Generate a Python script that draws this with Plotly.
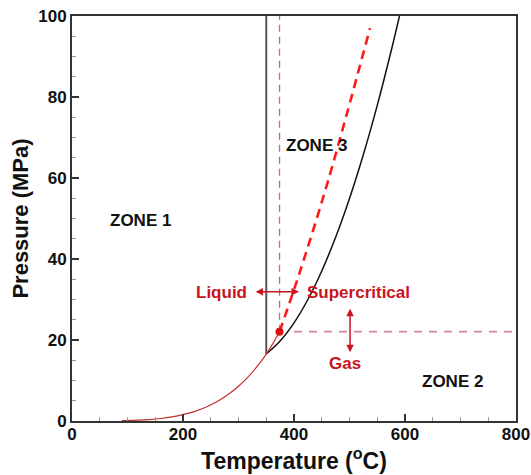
import plotly.graph_objects as go

# Saturation curve (°C, MPa)
sat_T = [90, 100, 120, 140, 160, 180, 200, 220, 240, 260, 280, 300, 320, 340, 350, 360, 370, 373.95]
sat_P = [0.0701, 0.1014, 0.1987, 0.3615, 0.6182, 1.0028, 1.5549, 2.3196, 3.3469, 4.6923,
         6.4166, 8.5879, 11.284, 14.587, 16.529, 18.666, 21.044, 22.064]

# Boundary between zone 2 and zone 3
b23_T = [350, 375, 400, 425, 450, 475, 500, 525, 550, 575, 590]
b23_P = [16.53, 19.75, 24.23, 30.00, 37.04, 45.36, 54.95, 65.81, 77.94, 91.35, 100.0]

# Zone 1 / zone 3 boundary
z13_T = [350, 350]
z13_P = [16.53, 100]

# Critical isotherm and isobar
crit_T = 373.95
crit_P = 22.064
tc_line_P = [22.064, 100]
pc_line_T = [400, 800]

# Pseudo-critical line
pc_T = [373.95, 410.8, 461.8, 537]
pc_P = [22.064, 36.9, 59.5, 97]

xticks = [0, 200, 400, 600, 800]
yticks = [0, 20, 40, 60, 80, 100]

RED = "#c8141e"
FONT = "Liberation Sans, Arial, sans-serif"

fig = go.Figure()
fig.add_trace(go.Scatter(x=z13_T, y=z13_P, mode="lines",
                         line=dict(color="#555555", width=2)))
fig.add_trace(go.Scatter(x=[crit_T, crit_T], y=tc_line_P, mode="lines",
                         line=dict(color="#cc6670", width=1.3, dash="7px,5px")))
fig.add_trace(go.Scatter(x=pc_line_T, y=[crit_P, crit_P], mode="lines",
                         line=dict(color="#d08890", width=1.8, dash="8px,7px")))
fig.add_trace(go.Scatter(x=b23_T, y=b23_P, mode="lines", line_shape="spline",
                         line=dict(color="#111111", width=1.5)))
fig.add_trace(go.Scatter(x=sat_T, y=sat_P, mode="lines", line_shape="spline",
                         line=dict(color="#c0302c", width=1.2)))
fig.add_trace(go.Scatter(x=pc_T, y=pc_P, mode="lines", line_shape="spline",
                         line=dict(color="#ff1a1a", width=2.6, dash="9px,6px")))
fig.add_trace(go.Scatter(x=[crit_T], y=[crit_P], mode="markers",
                         marker=dict(color="#dd1111", size=8)))

def txt(x, y, s, color="#111111"):
    fig.add_annotation(x=x, y=y, text="<b>%s</b>" % s, showarrow=False,
                       font=dict(family=FONT, size=17, color=color))

txt(124, 49.4, "ZONE 1")
txt(440, 68, "ZONE 3")
txt(685, 9.7, "ZONE 2")
txt(268.5, 31.7, "Liquid", RED)
txt(517, 31.7, "Supercritical", RED)
txt(492, 14.3, "Gas", RED)

fig.add_annotation(x=409, y=31.9, ax=328, ay=31.9, axref="x", ayref="y", xref="x", yref="y",
                   text="", showarrow=True, arrowside="end+start", arrowhead=2,
                   arrowsize=1, arrowwidth=1.5, arrowcolor=RED)
fig.add_annotation(x=501, y=17.0, ax=501, ay=28.1, axref="x", ayref="y", xref="x", yref="y",
                   text="", showarrow=True, arrowside="end+start", arrowhead=2,
                   arrowsize=1, arrowwidth=1.5, arrowcolor=RED)

axis_common = dict(showline=True, linecolor="#333333", linewidth=2, mirror=True,
                   ticks="inside", tickcolor="#333333", tickwidth=2, ticklen=7,
                   showgrid=False, zeroline=False, automargin=False,
                   tickfont=dict(family=FONT, size=17, color="#111111"))

fig.update_xaxes(range=[0, 800], tickvals=xticks, ticktext=["<b>%d</b>" % v for v in xticks],
                 ticklabelstandoff=-3,
                 minor=dict(ticks="inside", dtick=50, ticklen=4, tickcolor="#999999", tickwidth=1),
                 title=dict(text="<b>Temperature (<sup>o</sup>C)</b>",
                            font=dict(family=FONT, size=23, color="#111111"), standoff=2),
                 **axis_common)
fig.update_yaxes(range=[0, 100], tickvals=yticks, ticktext=["<b>%d</b>" % v for v in yticks],
                 minor=dict(ticks="inside", dtick=5, ticklen=4, tickcolor="#999999", tickwidth=1),
                 title=dict(text="<b>Pressure (MPa)</b>",
                            font=dict(family=FONT, size=22, color="#111111"), standoff=4),
                 **axis_common)

fig.update_layout(width=531, height=475, showlegend=False,
                  margin=dict(l=72, r=15, t=16, b=54),
                  plot_bgcolor="white", paper_bgcolor="white")

fig.write_html("out.html")
